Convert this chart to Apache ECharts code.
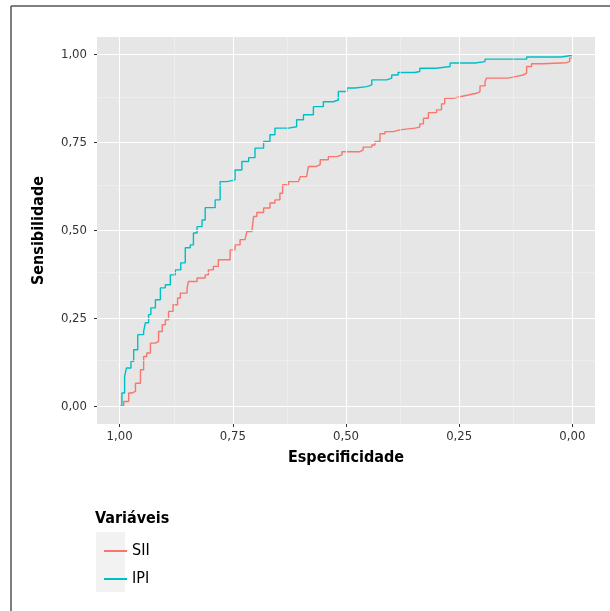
<!DOCTYPE html>
<html>
<head>
<meta charset="utf-8">
<script src="https://cdn.jsdelivr.net/npm/echarts@6/dist/echarts.min.js"></script>
<style>
  html, body { margin: 0; padding: 0; background: #fff; }
  #main { width: 610px; height: 611px; }
</style>
</head>
<body>
<div id="main"></div>
<script>
// especificidade / sensibilidade
var siiSpec = [1.000, 0.991, 0.980, 0.973, 0.965, 0.954, 0.947, 0.940, 0.932, 0.921, 0.914, 0.906, 0.899, 0.892, 0.882, 0.872, 0.866, 0.851, 0.848, 0.829, 0.811, 0.804, 0.793, 0.782, 0.767, 0.756, 0.745, 0.734, 0.723, 0.719, 0.708, 0.704, 0.697, 0.682, 0.668, 0.657, 0.646, 0.640, 0.627, 0.605, 0.601, 0.587, 0.583, 0.565, 0.557, 0.539, 0.520, 0.509, 0.498, 0.469, 0.462, 0.443, 0.436, 0.425, 0.414, 0.396, 0.381, 0.348, 0.337, 0.329, 0.318, 0.300, 0.289, 0.282, 0.263, 0.245, 0.230, 0.212, 0.204, 0.193, 0.190, 0.167, 0.142, 0.123, 0.109, 0.101, 0.090, 0.065, 0.013, 0.006, 0.000];
var siiSens = [0.000, 0.014, 0.038, 0.043, 0.066, 0.104, 0.142, 0.152, 0.180, 0.185, 0.213, 0.232, 0.246, 0.270, 0.289, 0.308, 0.322, 0.336, 0.355, 0.365, 0.374, 0.388, 0.398, 0.417, 0.417, 0.445, 0.459, 0.474, 0.478, 0.497, 0.497, 0.540, 0.551, 0.564, 0.578, 0.587, 0.606, 0.630, 0.639, 0.639, 0.653, 0.658, 0.682, 0.687, 0.701, 0.710, 0.715, 0.724, 0.724, 0.729, 0.737, 0.743, 0.753, 0.775, 0.781, 0.786, 0.791, 0.794, 0.803, 0.819, 0.835, 0.843, 0.860, 0.876, 0.881, 0.885, 0.890, 0.895, 0.911, 0.923, 0.933, 0.933, 0.938, 0.942, 0.947, 0.966, 0.974, 0.977, 0.980, 0.990, 1.000];

var ipiSpec = [1.000, 0.995, 0.989, 0.985, 0.975, 0.969, 0.960, 0.947, 0.943, 0.936, 0.931, 0.921, 0.910, 0.899, 0.888, 0.877, 0.865, 0.855, 0.844, 0.837, 0.829, 0.818, 0.811, 0.789, 0.778, 0.763, 0.745, 0.730, 0.715, 0.701, 0.682, 0.668, 0.657, 0.627, 0.609, 0.594, 0.572, 0.550, 0.528, 0.517, 0.498, 0.480, 0.454, 0.443, 0.410, 0.399, 0.385, 0.348, 0.337, 0.300, 0.270, 0.215, 0.193, 0.101, 0.024, 0.000];
var ipiSens = [0.000, 0.038, 0.085, 0.109, 0.128, 0.161, 0.204, 0.213, 0.238, 0.261, 0.280, 0.303, 0.337, 0.346, 0.374, 0.388, 0.408, 0.451, 0.459, 0.493, 0.511, 0.530, 0.565, 0.587, 0.639, 0.644, 0.672, 0.696, 0.707, 0.734, 0.753, 0.772, 0.791, 0.795, 0.815, 0.829, 0.852, 0.866, 0.871, 0.895, 0.905, 0.909, 0.914, 0.928, 0.933, 0.942, 0.949, 0.952, 0.961, 0.966, 0.976, 0.980, 0.987, 0.993, 0.998, 1.000];

var seriesNames = ['SII', 'IPI'];
var majorTicks = [0, 0.25, 0.5, 0.75, 1];
var minorTicks = [0.125, 0.375, 0.625, 0.875];

var font = "'Liberation Sans Narrow', 'Arial Narrow', 'DejaVu Sans Condensed', sans-serif";

function pairs(xs, ys) {
    return xs.map(function (x, i) { return [x, ys[i]]; });
}
function fmt(v) {
    return v.toFixed(2).replace('.', ',');
}

var gridLines = [];
majorTicks.forEach(function (v) {
    gridLines.push({ xAxis: v, lineStyle: { color: '#ffffff', width: 1.1, type: 'solid' } });
    gridLines.push({ yAxis: v, lineStyle: { color: '#ffffff', width: 1.1, type: 'solid' } });
});
minorTicks.forEach(function (v) {
    gridLines.push({ xAxis: v, lineStyle: { color: '#f2f2f2', width: 0.6, type: 'solid' } });
    gridLines.push({ yAxis: v, lineStyle: { color: '#f2f2f2', width: 0.6, type: 'solid' } });
});

var myChart = echarts.init(document.getElementById('main'));

myChart.setOption({
    animation: false,
    textStyle: { fontFamily: font },
    grid: {
        left: 97, right: 15, top: 37, bottom: 187,
        show: true, backgroundColor: '#e6e6e6', borderWidth: 0
    },
    graphic: [
        { type: 'line', shape: { x1: 11, y1: 6, x2: 610, y2: 6 }, style: { stroke: '#555', lineWidth: 1.5 } },
        { type: 'line', shape: { x1: 11, y1: 6, x2: 11, y2: 611 }, style: { stroke: '#555', lineWidth: 1.5 } },
        { type: 'rect', z: 0, shape: { x: 96, y: 532, width: 29, height: 60 }, style: { fill: '#f2f2f2' } },
        {
            type: 'text', left: 95, top: 511,
            style: { text: 'Variáveis', font: 'bold 16px ' + font, fill: '#000' }
        }
    ],
    legend: {
        orient: 'vertical',
        left: 99, top: 538,
        icon: 'rect',
        itemWidth: 23, itemHeight: 2, itemGap: 12,
        data: seriesNames,
        textStyle: { fontSize: 16, color: '#000', fontFamily: font, lineHeight: 16 },
        selectedMode: false
    },
    xAxis: {
        type: 'value', inverse: true,
        min: -0.05, max: 1.05,
        name: 'Especificidade', nameLocation: 'middle', nameGap: 26,
        nameTextStyle: { fontSize: 16, fontWeight: 'bold', color: '#000', fontFamily: font },
        axisLine: { show: false, onZero: false },
        axisTick: { show: true, customValues: majorTicks, length: 3, lineStyle: { color: '#333' } },
        axisLabel: { customValues: majorTicks, formatter: fmt, fontSize: 13, color: '#333', margin: 6 },
        splitLine: { show: false }
    },
    yAxis: {
        type: 'value',
        min: -0.05, max: 1.05,
        name: 'Sensibilidade', nameLocation: 'middle', nameGap: 50,
        nameTextStyle: { fontSize: 16, fontWeight: 'bold', color: '#000', fontFamily: font },
        axisLine: { show: false, onZero: false },
        axisTick: { show: true, customValues: majorTicks, length: 3, lineStyle: { color: '#333' } },
        axisLabel: { customValues: majorTicks, formatter: fmt, fontSize: 13, color: '#333', margin: 10 },
        splitLine: { show: false }
    },
    series: [
        {
            name: 'grade', type: 'line', data: [], z: 1, silent: true,
            markLine: {
                silent: true, symbol: ['none', 'none'], animation: false,
                label: { show: false }, emphasis: { disabled: true },
                data: gridLines
            }
        },
        {
            name: seriesNames[0], type: 'line', z: 3,
            data: pairs(siiSpec, siiSens),
            step: 'end', symbol: 'none',
            lineStyle: { color: '#F8766D', width: 1.4 },
            itemStyle: { color: '#F8766D' },
            emphasis: { disabled: true }
        },
        {
            name: seriesNames[1], type: 'line', z: 3,
            data: pairs(ipiSpec, ipiSens),
            step: 'end', symbol: 'none',
            lineStyle: { color: '#00BFC4', width: 1.4 },
            itemStyle: { color: '#00BFC4' },
            emphasis: { disabled: true }
        }
    ]
});
</script>
</body>
</html>
